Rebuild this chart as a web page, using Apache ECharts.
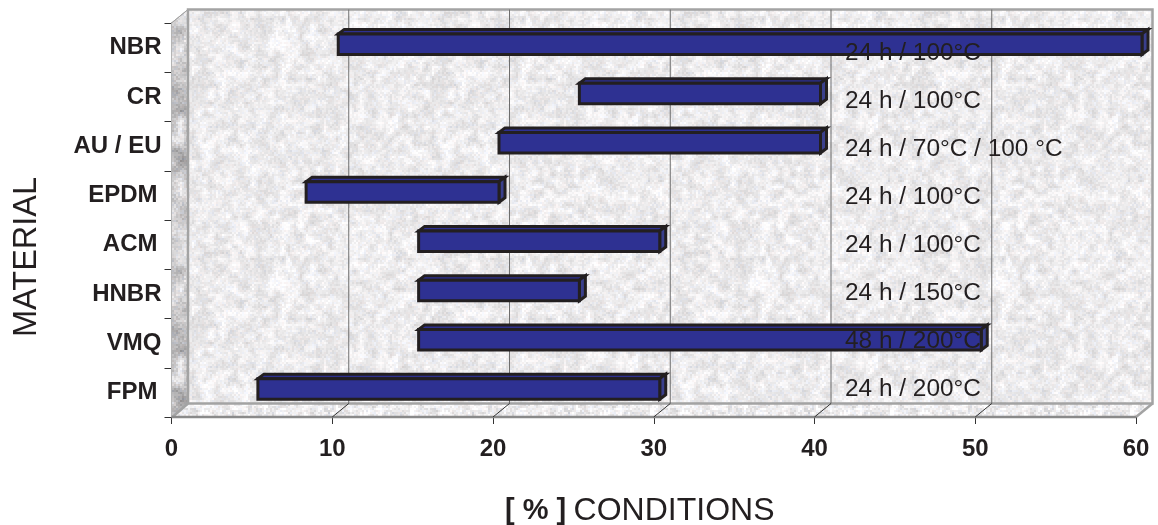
<!DOCTYPE html>
<html>
<head>
<meta charset="utf-8">
<style>html,body{margin:0;padding:0;background:#fff}#c{width:1158px;height:525px}</style>
<script src="https://cdn.jsdelivr.net/npm/echarts@6/dist/echarts.min.js"></script>
</head>
<body>
<div id="c"></div>
<script>
var materials = ['NBR','CR','AU / EU','EPDM','ACM','HNBR','VMQ','FPM'];
var rangeStart = [10,25,20,8,15,15,15,5];
var rangeEnd = [60,40,40,20,30,25,50,30];
var conditions = ['24 h / 100°C','24 h / 100°C','24 h / 70°C / 100 °C','24 h / 100°C','24 h / 100°C','24 h / 150°C','48 h / 200°C','24 h / 200°C'];
var xTicks = [0,10,20,30,40,50,60];
var conditionValue = 41.9;

var wallDX = 16.5, wallDY = -13.5, barDX = 6, barDY = -3.5, capDX = 6, capDY = -4.5, barH = 20.5;
var narrowLabels = {'EPDM':1,'ACM':1,'FPM':1};

function hash(x,y,s){var v=Math.sin(x*127.1+y*311.7+s*74.7)*43758.5453;return v-Math.floor(v);}
function smooth(x,y,sc,s){
  var fx=x/sc,fy=y/sc,ix=Math.floor(fx),iy=Math.floor(fy),tx=fx-ix,ty=fy-iy;
  var n=Math.round(240/sc);
  function h(a,b){return hash(((a%n)+n)%n,((b%n)+n)%n,s);}
  return (h(ix,iy)*(1-tx)+h(ix+1,iy)*tx)*(1-ty)+(h(ix,iy+1)*(1-tx)+h(ix+1,iy+1)*tx)*ty;
}
function texture(base,blob,fine,scale){
  var size=240,cell=2,c=document.createElement('canvas');c.width=c.height=size;
  var g=c.getContext('2d');
  for(var y=0;y<size;y+=cell){for(var x=0;x<size;x+=cell){
    var v=base+(smooth(x,y,scale,2)-0.5)*blob+(hash(x,y,1)-0.5)*fine;
    var tint=hash(x,y,4),dr=0,db=0;
    if(tint>0.82){dr=4;db=-1;} else if(tint<0.14){dr=-3;db=6;}
    g.fillStyle='rgb('+Math.round(v+dr)+','+Math.round(v-1)+','+Math.round(v+db)+')';
    g.fillRect(x,y,cell,cell);
  }}
  return c;
}
var wallFill={image:texture(236,34,18,6),repeat:'repeat'};
var sideFill={image:texture(200,90,30,10),repeat:'repeat'};
var floorFill={image:texture(238,40,28,4),repeat:'repeat'};

function renderWalls(params,api){
  var cs=params.coordSys,l=cs.x,t=cs.y,r=cs.x+cs.width,b=cs.y+cs.height;
  var ch=[
    {type:'polygon',shape:{points:[[l,t],[l+wallDX,t+wallDY],[l+wallDX,b+wallDY],[l,b]]},style:{fill:sideFill,stroke:'#b4b4b4',lineWidth:1}},
    {type:'polygon',shape:{points:[[l,b],[l+wallDX,b+wallDY],[r+wallDX,b+wallDY],[r,b]]},style:{fill:floorFill,stroke:'none'}},
    {type:'rect',shape:{x:l+wallDX,y:t+wallDY,width:cs.width,height:cs.height},style:{fill:wallFill,stroke:'#a3a3a3',lineWidth:2.5}},
    {type:'line',shape:{x1:l+1,y1:b,x2:l+wallDX,y2:b+wallDY},style:{stroke:'#a3a3a3',lineWidth:2.5}},
    {type:'line',shape:{x1:r,y1:b,x2:r+wallDX,y2:b+wallDY},style:{stroke:'#a3a3a3',lineWidth:2.5}},
    {type:'line',shape:{x1:l,y1:t,x2:l+wallDX,y2:t+wallDY},style:{stroke:'#a3a3a3',lineWidth:1}},
    {type:'line',shape:{x1:l,y1:b,x2:r,y2:b},style:{stroke:'#8a8a8a',lineWidth:2.5}}
  ];
  xTicks.forEach(function(v){
    if(v===0||v===60)return;
    var x=api.coord([v,0])[0];
    ch.push({type:'line',shape:{x1:x+wallDX,y1:t+wallDY,x2:x+wallDX,y2:b+wallDY},style:{stroke:'#6d6d6d',lineWidth:1}});
    ch.push({type:'line',shape:{x1:x,y1:b,x2:x+wallDX,y2:b+wallDY},style:{stroke:'#333',lineWidth:1}});
  });
  return {type:'group',children:ch};
}
function renderBar(params,api){
  var i=api.value(2);
  var a=api.coord([api.value(0),i]),z=api.coord([api.value(1),i]);
  var x0=a[0]+barDX,x1=z[0]+barDX,y0=a[1]+barDY-barH/2,y1=y0+barH;
  var st={stroke:'#231f20',lineWidth:3,lineJoin:'miter'};
  return {type:'group',children:[
    {type:'polygon',shape:{points:[[x0,y0],[x0+capDX,y0+capDY],[x1+capDX,y0+capDY],[x1,y0]]},style:Object.assign({fill:'#2e3192'},st)},
    {type:'polygon',shape:{points:[[x1,y0],[x1+capDX,y0+capDY],[x1+capDX,y1+capDY],[x1,y1]]},style:Object.assign({fill:'#3a3f8c'},st)},
    {type:'rect',shape:{x:x0,y:y0,width:x1-x0,height:barH},style:Object.assign({fill:'#2e3192'},st)}
  ]};
}
function renderCondition(params,api){
  var i=api.value(1),p=api.coord([api.value(0),i]);
  return {type:'text',x:p[0],y:p[1]+5.4-i*1.25,
    style:{text:conditions[i],fill:'#231f20',font:'24.4px "Liberation Sans", Arial, sans-serif',textAlign:'left',textVerticalAlign:'middle'}};
}
var chart=echarts.init(document.getElementById('c'),null,{renderer:'canvas'});
chart.setOption({
  animation:false,
  backgroundColor:'#ffffff',
  grid:{left:171.5,right:22,top:23,bottom:108,containLabel:false,outerBoundsMode:'none'},
  xAxis:{type:'value',min:0,max:60,interval:10,
    name:'{b|[ % ]} {r|CONDITIONS}',nameLocation:'middle',nameGap:78,
    nameTextStyle:{padding:[0,28,0,0],rich:{
      b:{fontFamily:'Liberation Sans',fontWeight:'bold',fontSize:29,color:'#231f20'},
      r:{fontFamily:'Liberation Sans',fontSize:32,color:'#231f20',padding:[0,0,0,4]}}},
    axisLine:{show:false},
    axisTick:{show:true,length:7,lineStyle:{color:'#333',width:1}},
    axisLabel:{fontFamily:'Liberation Sans',fontWeight:'bold',fontSize:24,color:'#231f20',margin:20},
    splitLine:{show:false}},
  yAxis:{type:'category',inverse:true,data:materials,
    name:'MATERIAL',nameLocation:'middle',nameRotate:90,nameGap:128,
    nameTextStyle:{fontFamily:'Liberation Sans',fontSize:32.5,color:'#231f20',padding:[0,74,0,0]},
    axisLine:{show:true,lineStyle:{color:'#333',width:1}},
    axisTick:{show:true,length:7,lineStyle:{color:'#333',width:1}},
    axisLabel:{margin:10,formatter:function(v){return narrowLabels[v]?'{n|'+v+'}':'{w|'+v+'}';},
      rich:{
        w:{fontFamily:'Liberation Sans',fontWeight:'bold',fontSize:24,color:'#231f20'},
        n:{fontFamily:'Liberation Sans',fontWeight:'bold',fontSize:24,color:'#231f20',padding:[0,4,0,0]}}},
    splitLine:{show:false}},
  series:[
    {name:'walls',type:'custom',coordinateSystem:'cartesian2d',clip:false,z:1,silent:true,data:[[0,0]],renderItem:renderWalls},
    {name:'range',type:'custom',coordinateSystem:'cartesian2d',clip:false,z:3,
      encode:{x:[0,1],y:2},
      data:materials.map(function(m,i){return [rangeStart[i],rangeEnd[i],i];}),renderItem:renderBar},
    {name:'conditions',type:'custom',coordinateSystem:'cartesian2d',clip:false,z:4,silent:true,
      encode:{x:0,y:1},
      data:materials.map(function(m,i){return [conditionValue,i];}),renderItem:renderCondition}
  ]
});
</script>
</body>
</html>
